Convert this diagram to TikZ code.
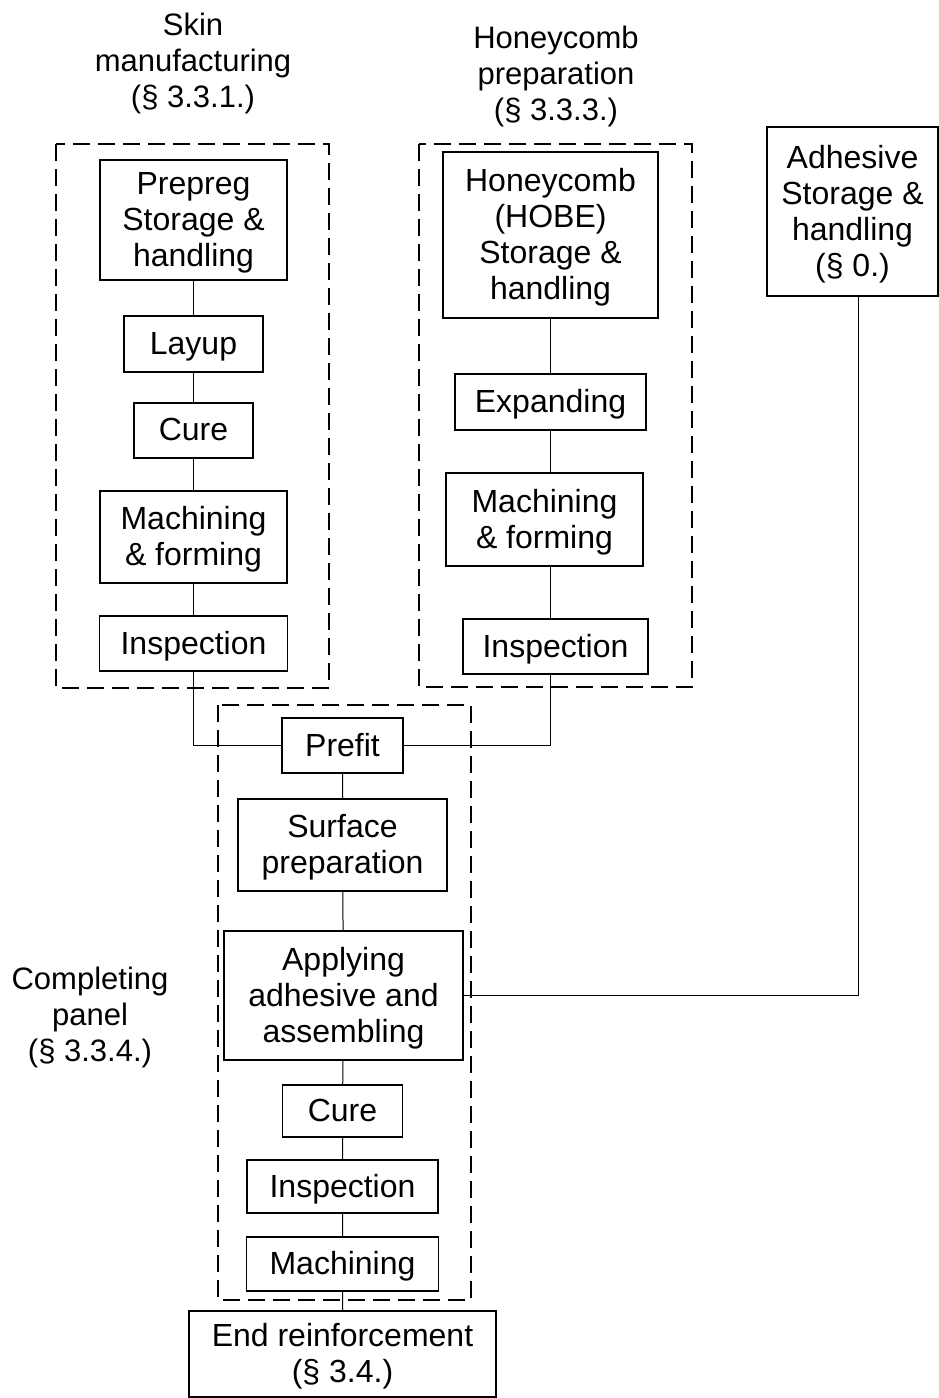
\documentclass[tikz,border=0pt]{standalone}
\usepackage{fontspec}
\setmainfont{Liberation Sans}

\begin{document}
\begin{tikzpicture}[x=1pt,y=-1pt,
    every node/.style={font=\fontsize{31}{36}\selectfont,align=center,inner sep=0pt},
    box/.style={draw,line width=1.8pt,font=\fontsize{32}{36}\selectfont,text depth=2pt},
    grp/.style={draw,line width=2.4pt,dash pattern=on 17pt off 8pt},
    lnk/.style={line width=1pt}]
  \useasboundingbox (0,0) rectangle (939,1398);
  % groups
  \draw[grp] (56,144) rectangle (329,688);
  \draw[grp] (419,144) rectangle (692,687);
  \draw[grp] (218,705) rectangle (471,1300);
  \node (tskin) at (193,63) {Skin\\manufacturing\\(\S{} 3.3.1.)};
  \node (thoney) at (556,76) {Honeycomb\\preparation\\(\S{} 3.3.3.)};
  \node (tpanel) at (90,1017) {Completing\\panel\\(\S{} 3.3.4.)};
  % skin
  \node[box,minimum width=187,minimum height=120] (pre) at (193.5,220) {Prepreg\\Storage \&\\handling};
  \node[box,minimum width=139,minimum height=56] (lay) at (193.5,344) {Layup};
  \node[box,minimum width=119,minimum height=55] (cur1) at (193.5,430.5) {Cure};
  \node[box,minimum width=187,minimum height=92] (mac1) at (193.5,537) {Machining\\\& forming};
  \node[box,minimum width=188,minimum height=55] (ins1) at (193.5,643.5) {Inspection};
  % honeycomb
  \node[box,minimum width=215,minimum height=166] (hc) at (550.5,235) {Honeycomb\\(HOBE)\\Storage \&\\handling};
  \node[box,minimum width=191,minimum height=56] (exp) at (550.5,402) {Expanding};
  \node[box,minimum width=197,minimum height=93] (mac2) at (544.5,519.5) {Machining\\\& forming};
  \node[box,minimum width=185,minimum height=55] (ins2) at (555.5,646.5) {Inspection};
  % adhesive
  \node[box,minimum width=171,minimum height=169] (adh) at (852.5,211.5) {Adhesive\\Storage \&\\handling\\(\S{} 0.)};
  % panel
  \node[box,minimum width=121,minimum height=55] (pf) at (342.5,745.5) {Prefit};
  \node[box,minimum width=209,minimum height=92] (sp) at (342.5,845) {Surface\\preparation};
  \node[box,minimum width=239,minimum height=129] (app) at (343.5,995.5) {Applying\\adhesive and\\assembling};
  \node[box,minimum width=120,minimum height=52] (cur2) at (342.5,1111) {Cure};
  \node[box,minimum width=191,minimum height=53] (ins3) at (342.5,1186.5) {Inspection};
  \node[box,minimum width=192,minimum height=54] (mac3) at (342.5,1264) {Machining};
  \node[box,minimum width=307,minimum height=86] (endr) at (342.5,1354) {End reinforcement\\(\S{} 3.4.)};
  % links
  \draw[lnk] (pre) -- (lay) (lay) -- (cur1) (cur1) -- (mac1) (mac1) -- (ins1);
  \draw[lnk] (hc) -- (exp) (exp.south) -- (exp.south |- mac2.north) (mac2.south -| exp.south) -- (exp.south |- ins2.north);
  \draw[lnk] (ins1.south) |- (pf.west);
  \draw[lnk] (pf.east) -| (exp.south |- ins2.south);
  \draw[lnk] (pf) -- (sp) (sp) -- (app) (app) -- (cur2) (cur2) -- (ins3) (ins3) -- (mac3) (mac3) -- (endr);
  \draw[lnk] (app.east) -| ([xshift=6pt]adh.south);
\end{tikzpicture}
\end{document}
